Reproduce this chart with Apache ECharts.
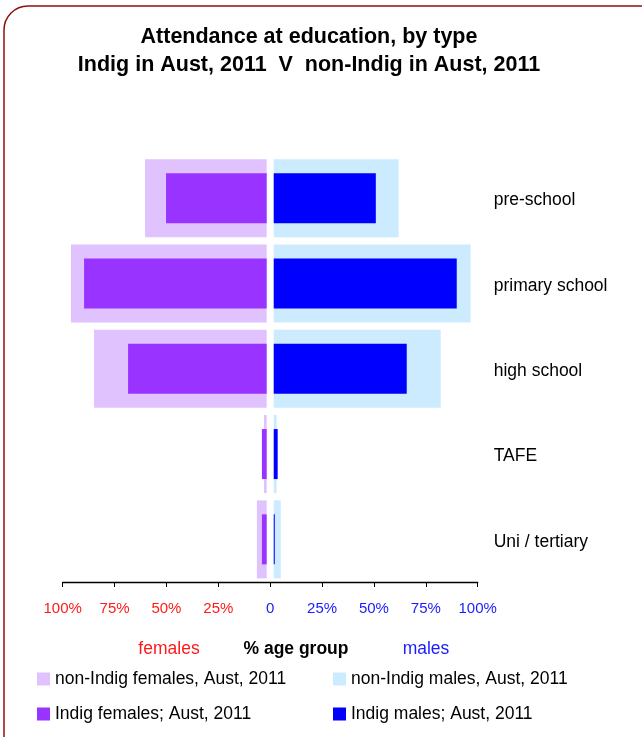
<!DOCTYPE html>
<html style="height: 100%">

<head>
    <meta charset="utf-8">
    <title>Attendance at education, by type</title>
</head>

<body style="height: 100%; margin: 0;">
    <div id="container" style="width: 642px; height: 737px"></div>
    <script src="https://cdn.jsdelivr.net/npm/echarts@6/dist/echarts.min.js"></script>
    <script type="text/javascript">
        // categories, top to bottom
        var categories = ['pre-school', 'primary school', 'high school', 'TAFE', 'Uni / tertiary'];
        // % of age group attending
        var nonIndigFemales = [58.6, 94.3, 83.2, 1.3, 4.7];
        var indigFemales = [48.5, 88.0, 66.8, 2.3, 2.3];
        var nonIndigMales = [60.2, 94.9, 80.5, 1.4, 3.4];
        var indigMales = [49.2, 88.2, 64.1, 1.9, 0.5];
        var tickValues = [-100, -75, -50, -25, 0, 25, 50, 75, 100];

        var gap = 1.7; // blank space each side of the centre line

        var font = 'Liberation Sans, Arial, sans-serif';
        var dom = document.getElementById("container");
        var myChart = echarts.init(dom);

        function neg(arr) {
            return arr.map(function (v) { return -v; });
        }
        function fill(v) {
            return categories.map(function () { return v; });
        }
        function spacer(stack, axis, sign, width) {
            return {
                type: 'bar', stack: stack, yAxisIndex: axis, silent: true, barWidth: width,
                data: fill(sign * gap),
                itemStyle: { color: 'rgba(0,0,0,0)' }
            };
        }
        function legendCol(left, names) {
            return {
                orient: 'vertical', left: left, top: 670, itemGap: 17, padding: 0,
                itemWidth: 13, itemHeight: 13, icon: 'rect', selectedMode: false,
                textStyle: { fontFamily: font, fontSize: 17.5, color: '#000' },
                data: names
            };
        }

        var option = {
            backgroundColor: '#fff',
            animation: false,
            grid: { left: 62.7, right: 164.3, top: 155.5, bottom: 155 },
            xAxis: {
                type: 'value', min: -100, max: 100, interval: 25,
                splitLine: { show: false },
                axisLine: { show: true, lineStyle: { color: '#000', width: 1.3 } },
                axisTick: { show: true, length: 5, lineStyle: { color: '#000' } },
                axisLabel: {
                    margin: 19,
                    fontFamily: font, fontSize: 15,
                    color: function (v) { return Number(v) < 0 ? '#ff1a1a' : '#1a1aff'; },
                    formatter: function (v) { return v === 0 ? '0' : Math.abs(v) + '%'; }
                }
            },
            yAxis: [{
                type: 'category', data: categories, inverse: true, position: 'right',
                axisLine: { show: false }, axisTick: { show: false },
                axisLabel: {
                    margin: 16, formatter: '{a|{value}}',
                    rich: { a: { padding: [5, 0, 0, 0], fontFamily: font, fontSize: 17.5, color: '#000' } }
                }
            }, {
                type: 'category', data: categories, inverse: true, position: 'right', show: false
            }],
            legend: [
                legendCol(37, ['non-Indig females, Aust, 2011', 'Indig females; Aust, 2011']),
                legendCol(333, ['non-Indig males, Aust, 2011', 'Indig males; Aust, 2011'])
            ],
            graphic: [{
                type: 'rect', silent: true,
                shape: { x: 4, y: 6, width: 660, height: 760, r: 24 },
                style: { fill: null, stroke: '#8b1010', lineWidth: 1.5 }
            }, {
                type: 'text', x: 309, y: 37,
                style: { text: 'Attendance at education, by type', fill: '#000', font: 'bold 21.5px ' + font, textAlign: 'center', textVerticalAlign: 'middle' }
            }, {
                type: 'text', x: 309, y: 65,
                style: { text: 'Indig in Aust, 2011  V  non-Indig in Aust, 2011', fill: '#000', font: 'bold 21.5px ' + font, textAlign: 'center', textVerticalAlign: 'middle' }
            }, {
                type: 'text', x: 169, y: 649,
                style: { text: 'females', fill: '#ff1a1a', font: '17.5px ' + font, textAlign: 'center', textVerticalAlign: 'middle' }
            }, {
                type: 'text', x: 296, y: 649,
                style: { text: '% age group', fill: '#000', font: 'bold 17.5px ' + font, textAlign: 'center', textVerticalAlign: 'middle' }
            }, {
                type: 'text', x: 426, y: 649,
                style: { text: 'males', fill: '#1a1aff', font: '17.5px ' + font, textAlign: 'center', textVerticalAlign: 'middle' }
            }],
            series: [
                spacer('wide', 0, -1, 78),
                spacer('wide', 0, 1, 78),
                {
                    name: 'non-Indig females, Aust, 2011', type: 'bar', stack: 'wide', yAxisIndex: 0,
                    barWidth: 78, data: neg(nonIndigFemales), itemStyle: { color: '#e0c2ff' }
                }, {
                    name: 'non-Indig males, Aust, 2011', type: 'bar', stack: 'wide', yAxisIndex: 0,
                    barWidth: 78, data: nonIndigMales, itemStyle: { color: '#cdebff' }
                },
                spacer('narrow', 1, -1, 50),
                spacer('narrow', 1, 1, 50),
                {
                    name: 'Indig females; Aust, 2011', type: 'bar', stack: 'narrow', yAxisIndex: 1,
                    barWidth: 50, data: neg(indigFemales), itemStyle: { color: '#9933ff' }
                }, {
                    name: 'Indig males; Aust, 2011', type: 'bar', stack: 'narrow', yAxisIndex: 1,
                    barWidth: 50, data: indigMales, itemStyle: { color: '#0000ff' }
                }
            ]
        };

        myChart.setOption(option, true);
    </script>
</body>

</html>
